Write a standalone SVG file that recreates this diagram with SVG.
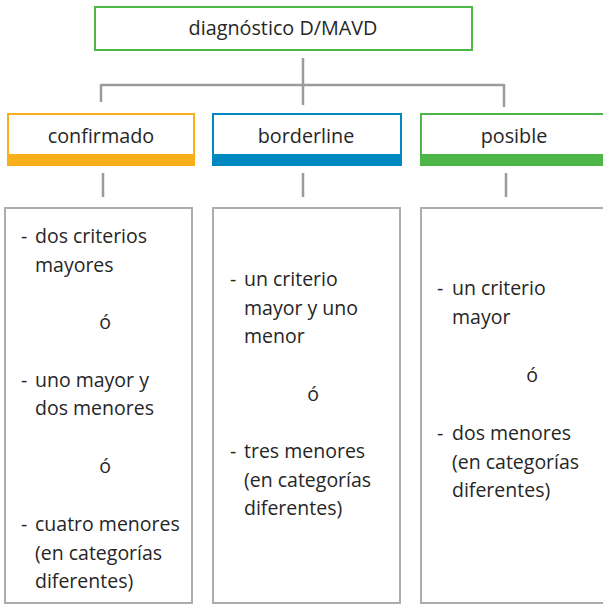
<svg xmlns="http://www.w3.org/2000/svg" width="603" height="606" viewBox="0 0 603 606">
<style>
text{font-family:"Open Sans","Noto Sans","DejaVu Sans",sans-serif;fill:#262626}
.h{font-size:19.8px;text-anchor:middle}
.b{font-size:19.5px}
.c{font-size:19.5px;text-anchor:middle}
.conn{stroke:#9b9b9b;stroke-width:2.5;fill:none}
.box{fill:#fff;stroke:#acacac;stroke-width:2}
</style>
<rect width="603" height="606" fill="#fff"/>
<g id="connectors">
<path class="conn" d="M303 58V105M101 85H504M101 84V102M504 84V107"/>
<path class="conn" d="M103 173V197M303 173V197M506 173V197"/>
</g>
<g id="root">
<rect x="95" y="7" width="377" height="43" fill="#fff" stroke="#4db848" stroke-width="2"/>
<text class="h" x="283" y="35">diagnóstico D/MAVD</text>
</g>
<g id="confirmado">
<rect x="8" y="114" width="186" height="46" fill="#fff" stroke="#f9ae1c" stroke-width="2"/>
<rect x="7" y="154" width="188" height="12" fill="#f9ae1c"/>
<text class="h" x="101" y="143">confirmado</text>
</g>
<g id="borderline">
<rect x="213" y="114" width="188" height="46" fill="#fff" stroke="#0089c0" stroke-width="2"/>
<rect x="212" y="154" width="190" height="12" fill="#0089c0"/>
<text class="h" x="306" y="143">borderline</text>
</g>
<g id="posible">
<rect x="421" y="114" width="200" height="46" fill="#fff" stroke="#4cb748" stroke-width="2"/>
<rect x="420" y="154" width="200" height="12" fill="#4cb748"/>
<text class="h" x="514" y="143">posible</text>
</g>
<g id="criterios-confirmado">
<rect class="box" x="5" y="208" width="187" height="395"/>
<text class="b" x="21" y="243">-</text>
<text class="b" x="35" y="243">dos criterios</text>
<text class="b" x="35" y="272">mayores</text>
<text class="c" x="105" y="329">ó</text>
<text class="b" x="21" y="387">-</text>
<text class="b" x="35" y="387">uno mayor y</text>
<text class="b" x="35" y="415">dos menores</text>
<text class="c" x="105" y="473">ó</text>
<text class="b" x="21" y="531">-</text>
<text class="b" x="35" y="531">cuatro menores</text>
<text class="b" x="35" y="560">(en categorías</text>
<text class="b" x="35" y="588">diferentes)</text>
</g>
<g id="criterios-borderline">
<rect class="box" x="213" y="208" width="187" height="395"/>
<text class="b" x="230" y="286">-</text>
<text class="b" x="244" y="286">un criterio</text>
<text class="b" x="244" y="315">mayor y uno</text>
<text class="b" x="244" y="343">menor</text>
<text class="c" x="313" y="401">ó</text>
<text class="b" x="230" y="458">-</text>
<text class="b" x="244" y="458">tres menores</text>
<text class="b" x="244" y="487">(en categorías</text>
<text class="b" x="244" y="515">diferentes)</text>
</g>
<g id="criterios-posible">
<rect class="box" x="421" y="208" width="200" height="395"/>
<text class="b" x="437" y="295">-</text>
<text class="b" x="452" y="295">un criterio</text>
<text class="b" x="452" y="324">mayor</text>
<text class="c" x="532" y="382">ó</text>
<text class="b" x="437" y="440">-</text>
<text class="b" x="452" y="440">dos menores</text>
<text class="b" x="452" y="469">(en categorías</text>
<text class="b" x="452" y="497">diferentes)</text>
</g>
</svg>
